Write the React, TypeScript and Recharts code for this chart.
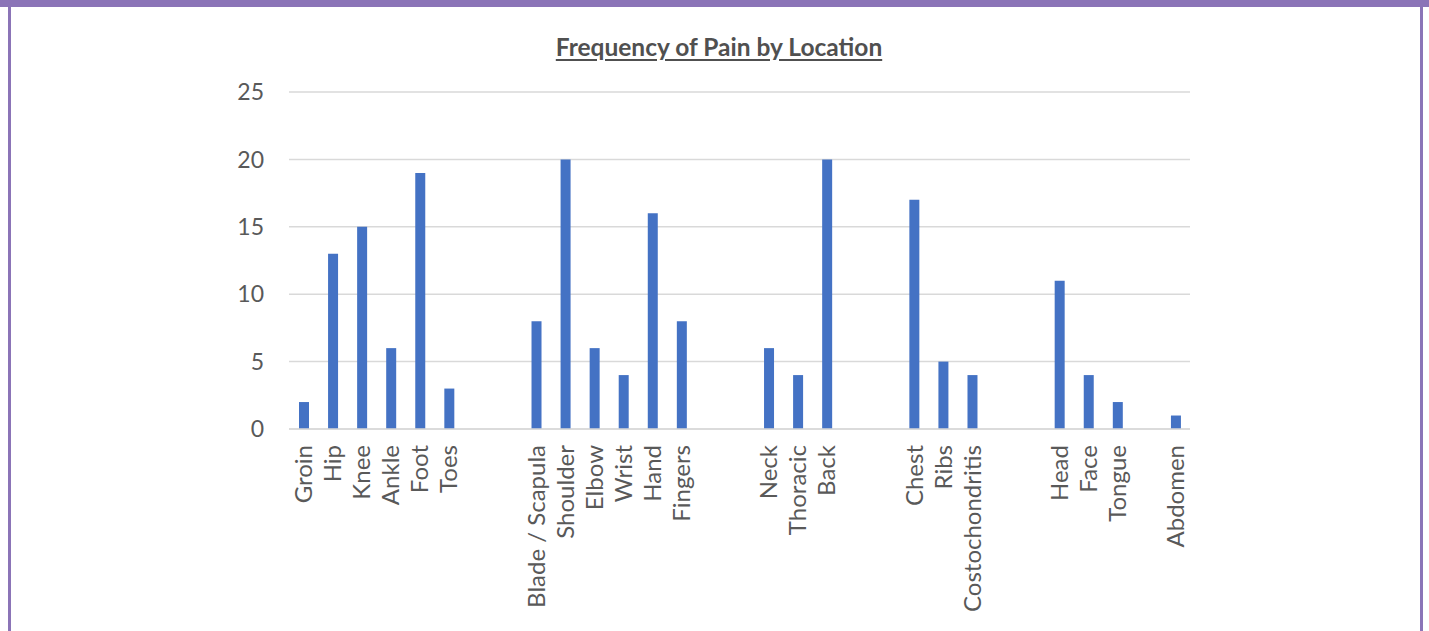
import { Bar, BarChart, CartesianGrid, XAxis, YAxis } from "recharts";

// empty strings are the blank slots Excel left between body regions
const locations = [
  "Groin", "Hip", "Knee", "Ankle", "Foot", "Toes", "", "",
  "Blade / Scapula", "Shoulder", "Elbow", "Wrist", "Hand", "Fingers", "", "",
  "Neck", "Thoracic", "Back", "", "",
  "Chest", "Ribs", "Costochondritis", "", "",
  "Head", "Face", "Tongue", "",
  "Abdomen",
];
const frequency = [
  2, 13, 15, 6, 19, 3, null, null,
  8, 20, 6, 4, 16, 8, null, null,
  6, 4, 20, null, null,
  17, 5, 4, null, null,
  11, 4, 2, null,
  1,
];
const yTicks = [0, 5, 10, 15, 20, 25];

const data = locations.map((name, i) => ({ slot: i, name, count: frequency[i] }));

const FONT = "Lato, 'Open Sans', sans-serif";
const PURPLE = "#8B74B7";

function LocationTick(props: any) {
  const { x, y, payload } = props;
  const label = locations[payload.value];
  return (
    <g transform={`translate(${x},${y})`}>
      <text
        transform="rotate(-90)"
        x={0}
        y={0}
        dy="0.36em"
        textAnchor="end"
        fill="#595959"
        fontSize={24}
        fontFamily={FONT}
      >
        {label}
      </text>
    </g>
  );
}

function App() {
  return (
    <div
      style={{
        position: "absolute",
        left: 0,
        top: 0,
        width: 1429,
        height: 631,
        background: "#fff",
        overflow: "hidden",
      }}
    >
      <div style={{ position: "absolute", left: 0, top: 0, width: 1429, height: 7, background: PURPLE }} />
      <div style={{ position: "absolute", left: 8, top: 0, width: 3, height: 631, background: PURPLE }} />
      <div style={{ position: "absolute", left: 1420, top: 0, width: 3, height: 631, background: PURPLE }} />

      <div
        style={{
          position: "absolute",
          left: 0,
          top: 32,
          width: 1438,
          textAlign: "center",
          fontFamily: FONT,
          fontWeight: 700,
          fontSize: 24.5,
          color: "#505050",
          textDecoration: "underline",
          textUnderlineOffset: 3,
          lineHeight: "30px",
        }}
      >
        Frequency of Pain by Location
      </div>

      <div style={{ position: "absolute", left: 0, top: 0 }}>
        <BarChart
          width={1429}
          height={631}
          data={data}
          margin={{ top: 92, right: 239, bottom: 12, left: 0 }}
          barSize={10}
        >
          <CartesianGrid vertical={false} stroke="#d9d9d9" strokeWidth={1.5} />
          <XAxis
            dataKey="slot"
            type="category"
            interval={0}
            height={190}
            tickLine={false}
            tickSize={0}
            tickMargin={16}
            axisLine={{ stroke: "#d9d9d9", strokeWidth: 1.5 }}
            tick={<LocationTick />}
          />
          <YAxis
            width={289}
            domain={[0, 25]}
            ticks={yTicks}
            axisLine={false}
            tickLine={false}
            tickSize={0}
            tickMargin={25}
            tick={{ fill: "#595959", fontSize: 23, fontFamily: FONT }}
          />
          <Bar dataKey="count" fill="#4472C4" isAnimationActive={false} />
        </BarChart>
      </div>
    </div>
  );
}

export default App;
